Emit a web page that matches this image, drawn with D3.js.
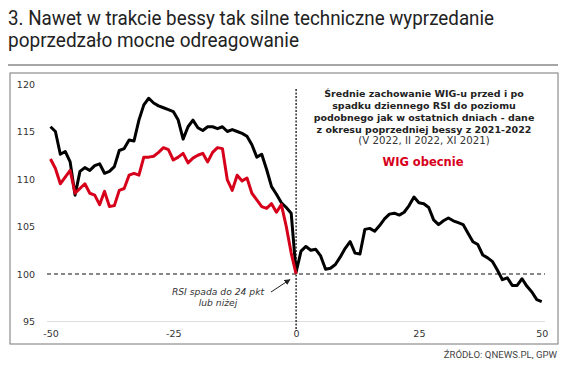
<!DOCTYPE html>
<html><head><meta charset="utf-8">
<script src="https://cdn.jsdelivr.net/npm/d3@7"></script>
<style>body{margin:0;background:#fff}svg{display:block}</style>
</head><body>
<script>
const titleLines = ["3. Nawet w trakcie bessy tak silne techniczne wyprzedanie", "poprzedzało mocne odreagowanie"];
const sourceText = "ŹRÓDŁO: QNEWS.PL, GPW";
const legendLines = ["Średnie zachowanie WIG-u przed i po", "spadku dziennego RSI do poziomu", "podobnego jak w ostatnich dniach - dane", "z okresu poprzedniej bessy z 2021-2022"];
const legendSub = "(V 2022, II 2022, XI 2021)";
const currentLabel = "WIG obecnie";
const annotLines = ["RSI spada do 24 pkt", "lub niżej"];
const xTicks = [-50, -25, 0, 25, 50];
const yTicks = [95, 100, 105, 110, 115, 120];
const days = d3.range(-50, 51);
const avgSeries = [115.5,115.0,112.6,112.9,111.8,108.3,110.8,111.2,110.9,111.4,
 111.6,110.6,110.8,111.3,113.0,113.2,114.1,114.0,116.2,117.8,
 118.5,118.0,117.7,117.5,117.3,117.1,116.2,114.2,115.5,116.2,
 115.4,115.1,115.5,115.5,115.3,115.5,115.0,115.2,115.0,114.8,
 114.5,113.6,112.3,112.6,111.0,109.2,108.4,107.5,107.0,106.4,
 100.2,102.4,102.9,102.5,102.6,101.9,100.5,100.6,101.0,101.8,
 102.7,103.4,102.2,102.1,104.7,104.8,104.5,105.1,105.8,106.3,
 106.4,106.2,106.5,107.2,108.1,107.5,107.4,107.0,105.7,105.2,
 105.6,105.9,105.6,105.4,105.2,104.3,103.4,103.1,102.0,101.7,
 101.3,100.4,99.4,99.6,98.8,98.8,99.5,98.7,98.1,97.3,97.1];
const currentSeries = [112.1,111.1,109.5,110.2,110.9,108.5,109.0,109.5,108.5,108.3,
 107.3,108.7,107.1,107.2,108.8,109.0,110.4,110.6,110.4,112.3,
 112.3,112.4,112.8,113.3,113.1,112.0,112.3,112.7,111.7,112.2,
 112.5,112.7,111.8,112.8,113.3,113.2,109.9,108.8,110.4,109.8,
 110.1,108.5,107.8,107.1,106.9,107.4,106.5,107.3,105.0,102.2,100.0];

const W = 564, H = 375;
const svg = d3.select("body").append("svg").attr("width", W).attr("height", H);

// title
const titleWidths = [486, 291];
svg.selectAll("text.title").data(titleLines).enter().append("text")
  .attr("x", 8).attr("y", (d, i) => 25 + i * 22)
  .attr("font-family", "Roboto").attr("font-size", 20.5).attr("fill", "#222")
  .attr("textLength", (d, i) => titleWidths[i]).attr("lengthAdjust", "spacingAndGlyphs")
  .text(d => d);
svg.append("line").attr("x1", 8).attr("x2", 558).attr("y1", 65).attr("y2", 65)
  .attr("stroke", "#888").attr("stroke-width", 1.5);
svg.append("rect").attr("x", 10).attr("y", 73).attr("width", 548).attr("height", 271)
  .attr("fill", "none").attr("stroke", "#777").attr("stroke-width", 1);

const x = d3.scaleLinear().domain([-50, 50]).range([50.5, 541.7]);
const y = d3.scaleLinear().domain([95, 120]).range([321.5, 84]);

// baseline grid at 95
svg.append("line").attr("x1", 47).attr("x2", 545).attr("y1", y(95)).attr("y2", y(95))
  .attr("stroke", "#ddd").attr("stroke-width", 1);

// axes
const yAxis = d3.axisLeft(y).tickValues(yTicks).tickSize(0).tickPadding(0);
svg.append("g").attr("transform", "translate(35,0)").call(yAxis)
  .call(g => g.select(".domain").remove())
  .selectAll("text").attr("font-family", "DejaVu Sans").attr("font-size", 9.5).attr("fill", "#333");
const xAxis = d3.axisBottom(x).tickValues(xTicks).tickSize(0).tickPadding(0).tickFormat(d => String(d));
svg.append("g").attr("transform", "translate(0,330)").call(xAxis)
  .call(g => g.select(".domain").remove())
  .selectAll("text").attr("font-family", "DejaVu Sans").attr("font-size", 9.5).attr("fill", "#333");

// reference lines
svg.append("line").attr("x1", 47).attr("x2", 545).attr("y1", y(100)).attr("y2", y(100))
  .attr("stroke", "#111").attr("stroke-width", 1.2).attr("stroke-dasharray", "4,3");
svg.append("line").attr("x1", x(0)).attr("x2", x(0)).attr("y1", 89).attr("y2", 331)
  .attr("stroke", "#111").attr("stroke-width", 1.3).attr("stroke-dasharray", "2,1.5");

const line = d3.line().x(d => x(d[0])).y(d => y(d[1])).curve(d3.curveLinear);
svg.append("path").datum(days.map((d, i) => [d, avgSeries[i]]))
  .attr("d", line).attr("fill", "none").attr("stroke", "#000").attr("stroke-width", 3)
  .attr("stroke-linejoin", "round");
svg.append("path").datum(days.slice(0, currentSeries.length).map((d, i) => [d, currentSeries[i]]))
  .attr("d", line).attr("fill", "none").attr("stroke", "#d7001b").attr("stroke-width", 3)
  .attr("stroke-linejoin", "round");

// legend text
svg.selectAll("text.leg").data(legendLines).enter().append("text")
  .attr("x", 424).attr("y", (d, i) => 96.5 + i * 12).attr("text-anchor", "middle")
  .attr("font-family", "DejaVu Sans").attr("font-weight", "bold").attr("font-size", 9.5).attr("fill", "#222")
  .text(d => d);
svg.append("text").attr("x", 424).attr("y", 144).attr("text-anchor", "middle")
  .attr("font-family", "DejaVu Sans").attr("font-size", 10.2).attr("fill", "#333").text(legendSub);
svg.append("text").attr("x", 423).attr("y", 166).attr("text-anchor", "middle")
  .attr("font-family", "DejaVu Sans").attr("font-weight", "bold").attr("font-size", 11.5).attr("fill", "#d7001b").text(currentLabel);

// annotation
svg.selectAll("text.ann").data(annotLines).enter().append("text")
  .attr("x", 218).attr("y", (d, i) => 295 + i * 11).attr("text-anchor", "middle")
  .attr("font-family", "DejaVu Sans").attr("font-style", "italic").attr("font-size", 9.2).attr("fill", "#333")
  .text(d => d);
svg.append("defs").append("marker").attr("id", "ah").attr("viewBox", "0 0 10 10")
  .attr("refX", 9).attr("refY", 5).attr("markerWidth", 6).attr("markerHeight", 6).attr("orient", "auto")
  .append("path").attr("d", "M0,0L10,5L0,10z").attr("fill", "#222");
svg.append("line").attr("x1", 271).attr("y1", 292).attr("x2", 290).attr("y2", 279.5)
  .attr("stroke", "#222").attr("stroke-width", 1).attr("marker-end", "url(#ah)");

// source
svg.append("text").attr("x", 557).attr("y", 358).attr("text-anchor", "end")
  .attr("font-family", "Roboto").attr("font-size", 9.6).attr("fill", "#444")
  .text(sourceText);
</script>
</body></html>
